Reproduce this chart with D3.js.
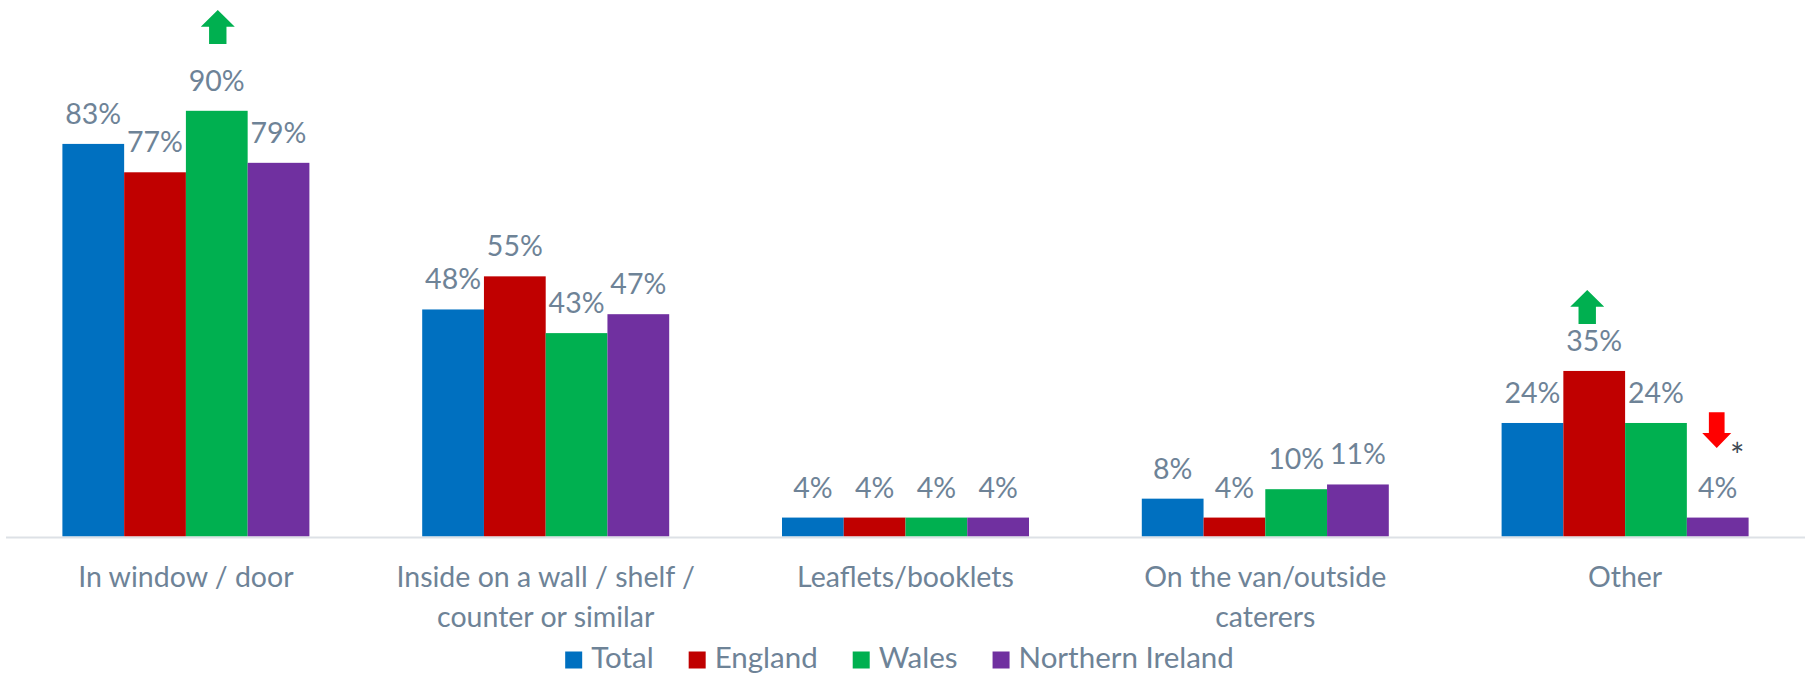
<!DOCTYPE html>
<html>
<head>
<meta charset="utf-8">
<script src="https://cdn.jsdelivr.net/npm/d3@7"></script>
<style>
  html, body { margin: 0; padding: 0; background: #ffffff; }
  svg { display: block; }
  text { font-family: Lato, "Open Sans", sans-serif; }
</style>
</head>
<body>
<svg id="chart" width="1807" height="678"></svg>
<script>
// Where the information is displayed, by nation (percent of respondents)
const categories = [
  ["In window / door"],
  ["Inside on a wall / shelf /", "counter or similar"],
  ["Leaflets/booklets"],
  ["On the van/outside", "caterers"],
  ["Other"]
];
const seriesNames = ["Total", "England", "Wales", "Northern Ireland"];
const seriesColors = ["#0070c0", "#c00000", "#00b050", "#7030a0"];
const totalValues    = [83, 48, 4, 8, 24];
const englandValues  = [77, 55, 4, 4, 35];
const walesValues    = [90, 43, 4, 10, 24];
const niValues       = [79, 47, 4, 11, 4];
const seriesValues = [totalValues, englandValues, walesValues, niValues];

// Significance markers: category index, series index, direction
const markerCategory = [0, 4, 4];
const markerSeries   = [2, 1, 3];
const markerDir      = ["up", "up", "down"];

const textColor = "#6e8397";
const svg = d3.select("#chart");

const x0 = d3.scaleBand()
  .domain(d3.range(categories.length))
  .range([6, 1805])
  .paddingInner(0.3135)
  .paddingOuter(0.15675);

const x1 = d3.scaleBand()
  .domain(d3.range(seriesNames.length))
  .range([0, x0.bandwidth()]);

const y = d3.scaleLinear().domain([0, 100]).range([536.5, 63.5]);

const rows = [];
categories.forEach((c, ci) => {
  seriesValues.forEach((vals, si) => rows.push({ ci, si, v: vals[ci] }));
});

const barX = d => x0(d.ci) + x1(d.si);

// bars
svg.append("g").selectAll("rect").data(rows).join("rect")
  .attr("x", barX)
  .attr("y", d => y(d.v))
  .attr("width", x1.bandwidth())
  .attr("height", d => y(0) - y(d.v))
  .attr("fill", d => seriesColors[d.si]);

// baseline
svg.append("line")
  .attr("x1", x0.range()[0]).attr("x2", x0.range()[1])
  .attr("y1", y(0) + 1).attr("y2", y(0) + 1)
  .attr("stroke", "#dde1e6").attr("stroke-width", 2);

// value labels
svg.append("g").selectAll("text").data(rows).join("text")
  .attr("x", d => barX(d) + x1.bandwidth() / 2)
  .attr("y", d => y(d.v) - 20)
  .attr("text-anchor", "middle")
  .attr("font-size", 28.5)
  .attr("fill", textColor)
  .text(d => d.v + "%");

// category labels
const catG = svg.append("g");
categories.forEach((lines, ci) => {
  const t = catG.append("text")
    .attr("x", x0(ci) + x0.bandwidth() / 2)
    .attr("y", 587)
    .attr("text-anchor", "middle")
    .attr("font-size", 28.5)
    .attr("fill", textColor);
  lines.forEach((ln, li) => {
    t.append("tspan")
      .attr("x", x0(ci) + x0.bandwidth() / 2)
      .attr("dy", li === 0 ? 0 : 40)
      .text(ln);
  });
});

// significance arrows
const arrowStyle = {
  up:   { color: "#00b050", w: 34, shaft: 17.4, head: 16.7, len: 34 },
  down: { color: "#ff0000", w: 29, shaft: 15.7, head: 15, len: 35.7 }
};
// vertical placement of each arrow (tip/top above bar top) and horizontal nudge
const arrowLift  = [100.8, 81, 105.3];
const arrowNudge = [1, -7, -1];

markerCategory.forEach((ci, k) => {
  const si = markerSeries[k];
  const v = seriesValues[si][ci];
  const s = arrowStyle[markerDir[k]];
  const cx = x0(ci) + x1(si) + x1.bandwidth() / 2 + arrowNudge[k];
  const top = y(v) - arrowLift[k];
  let pts;
  if (markerDir[k] === "up") {
    pts = [[cx, top], [cx + s.w / 2, top + s.head], [cx + s.shaft / 2, top + s.head],
           [cx + s.shaft / 2, top + s.len], [cx - s.shaft / 2, top + s.len],
           [cx - s.shaft / 2, top + s.head], [cx - s.w / 2, top + s.head]];
  } else {
    const tip = top + s.len;
    pts = [[cx - s.shaft / 2, top], [cx + s.shaft / 2, top], [cx + s.shaft / 2, tip - s.head],
           [cx + s.w / 2, tip - s.head], [cx, tip], [cx - s.w / 2, tip - s.head],
           [cx - s.shaft / 2, tip - s.head]];
    svg.append("text")
      .attr("x", cx + 20.5).attr("y", tip + 20)
      .attr("text-anchor", "middle")
      .attr("font-size", 34)
      .attr("fill", "#404a55")
      .text("*");
  }
  svg.append("polygon")
    .attr("points", pts.map(p => p.join(",")).join(" "))
    .attr("fill", s.color);
});

// legend
const legend = svg.append("g");
const sq = 17, gapText = 9, gapItem = 35;
let lx = 0;
seriesNames.forEach((name, i) => {
  const g = legend.append("g");
  g.append("rect").attr("x", 0).attr("y", 651.5).attr("width", sq).attr("height", sq)
    .attr("fill", seriesColors[i]);
  const t = g.append("text").attr("x", sq + gapText).attr("y", 668)
    .attr("font-size", 29.5).attr("fill", textColor).text(name);
  const w = sq + gapText + t.node().getComputedTextLength();
  g.attr("transform", `translate(${lx},0)`);
  lx += w + gapItem;
});
const legendWidth = lx - gapItem;
legend.attr("transform", `translate(${899.5 - legendWidth / 2},0)`);
</script>
</body>
</html>
